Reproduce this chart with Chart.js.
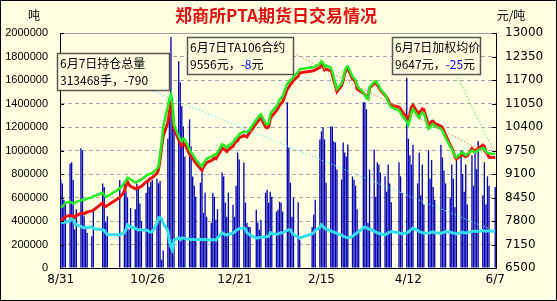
<!DOCTYPE html>
<html><head><meta charset="utf-8">
<script src="https://cdn.jsdelivr.net/npm/chart.js@4/dist/chart.umd.min.js"></script>
<style>html,body{margin:0;padding:0;background:#FFFFE1;}canvas{display:block;}</style>
</head><body>
<canvas id="c" width="557" height="301"></canvas>
<script>
// ---- calendar (trading days of ZCE, 2010-08-31 .. 2011-06-07) ----
const startDate = '2010-08-31';
const endDate = '2011-06-07';
const holidays = ['2010-09-22','2010-09-23','2010-09-24','2010-10-01','2010-10-04','2010-10-05','2010-10-06','2010-10-07',
  '2011-01-03','2011-02-02','2011-02-03','2011-02-04','2011-02-07','2011-02-08','2011-04-04','2011-04-05','2011-05-02','2011-06-06'];
const tickDates = ['8/31','10/26','12/21','2/15','4/12','6/7'];

// ---- series (one value per trading day) ----
// 成交量 (吨)
const volume = [
 750000,
 720000,580000,550000, 890000,900000,750000,330000,500000, 1020000,1000000,440000,350000,300000, 270000,500000, 720000,690000,390000,440000,
 750000, 735000,660000,600000,330000,510000, 500000,720000,690000,550000,400000, 640000,735000,690000,735000,750000,
 760000,720000,740000,70000,150000, 1100000,1300000,1966000,1450000,1250000, 1760000,1581000,1376000,1205000,949000, 1265000,1034000,778000,700000,607000, 726000,812000,
 470000,641000,436000, 385000,641000,607000,410000,500000, 812000,778000,555000,436000,641000, 538000,436000,700000,983000,923000, 897000,555000,385000,350000,350000,
 496000,385000,325000,410000, 641000,667000,555000,650000,607000, 479000,496000,564000,555000,480000, 1410000,1026000,726000,436000,598000, 560000,
 240000, 350000,453000,581000, 1094000,1162000,1197000,1094000,726000, 1205000,1205000,1077000,1068000,838000, 752000,
 1068000,983000,949000,1051000, 778000,752000,700000,500000,325000, 1410000,1410000,1350000,385000,838000, 1009000,607000,897000,880000,812000, 780000,650000,880000,720000,
 560000, 900000,780000,640000, 1620000,1100000,960000,880000,1050000, 720000,980000,620000,880000,540000, 1000000,760000,920000,690000,580000,
 1050000,940000,830000,720000, 600000,880000,760000,520000,920000, 1000000,800000,650000,880000,540000, 960000,700000,1000000,840000,1080000, 620000,900000,
 540000,780000,700000, 690000
];
// 持仓总量 (手)
const openInterest = [
 385000,
 390000,388000,392000, 400000,425000,427000,380000,368000, 355000,345000,342000,345000,342000, 350000,335000, 325000,320000,300000,285000,
 282000, 300000,325000,368000,360000,350000, 340000,330000,325000,328000,325000, 322000,320000,310000,305000,308000,
 380000,427000,427000,420000,380000, 320000,230000,180000,154000,240000, 255000,240000,255000,256000,250000, 245000,240000,245000,242000,240000, 245000,240000,
 242000,245000,240000, 238000,242000,240000,238000,256000, 300000,290000,285000,280000,285000, 300000,305000,320000,330000,335000, 342000,330000,300000,290000,280000,
 256000,256000,260000,262000, 265000,268000,270000,300000,295000, 285000,290000,296000,300000,300000, 320000,325000,325000,300000,285000, 262000,
 256000, 290000,300000,320000, 345000,368000,355000,340000,330000, 318000,310000,305000,300000,295000, 280000,
 270000,265000,260000,256000, 268000,282000,290000,300000,310000, 340000,350000,345000,335000,330000, 315000,305000,300000,295000,292000, 282000,290000,300000,305000,
 310000, 300000,295000,290000, 300000,305000,320000,330000,340000, 320000,310000,305000,300000,298000, 295000,300000,305000,310000,300000,
 295000,300000,305000,310000, 305000,300000,298000,295000,290000, 300000,305000,300000,298000,302000, 310000,312000,315000,313000,310000, 318000,315000,
 312000,314000,314258, 313468
];
// TA106合约 (元/吨)
const ta106Price = [
 7800,
 7830,7880,7920, 7960,7950,7920,7900,7950, 8010,8030,8000,8020,8050, 8080,8100, 8300,8220,8200,8230,
 8450, 8620,8780,8890,8800,8760, 8690,8720,8700,8740,8760, 8880,8900,8950,8980,9000,
 9120,9220,9500,9850,10150, 10520,10800,11050,10850,10350, 10050,9950,9880,9950,9920, 9650,9580,9540,9470,9400, 9250,9200,
 9300,9350,9420, 9470,9500,9540,9520,9600, 9820,9790,9760,9720,9780, 9870,9950,10000,10020,10100, 10170,10150,10130,10200,10250,
 10500,10550,10620,10650, 10400,10380,10400,10620,10700, 10850,10920,11000,11050,11100, 11450,11500,11580,11620,11700, 11800,
 11900, 11950,11960,11980, 12050,12120,12080,11980,12000, 11950,11850,11680,11550,11380, 11550,
 11680,11880,11980,12020, 11740,11700,11650,11450,11420, 11330,11300,11230,11200,11480, 11600,11620,11560,11500,11420, 11280,11220,11150,11050,
 11000, 10950,10900,10820, 10680,10600,10750,10950,11000, 10800,10750,10850,10900,10880, 10450,10480,10550,10560,10500,
 10420,10380,10280,10180, 9900,9820,9720,9580,9520, 9620,9650,9600,9580,9600, 9800,9760,9740,9780,9800, 9900,9870,
 9700,9650,9564, 9556
];
// 加权均价 (元/吨)
const weightedPrice = [
 8180,
 8200,8250,8300, 8330,8310,8280,8300,8330, 8370,8390,8380,8400,8420, 8450,8480, 8580,8520,8470,8480,
 8700, 8850,8920,9000,8980,8950, 8860,8880,8900,8930,8950, 9050,9080,9100,9110,9130,
 9250,9320,9650,9950,10400, 10970,11200,11300,11000,10450, 10150,10060,10000,10080,10050, 9780,9700,9650,9580,9500, 9350,9310,
 9400,9450,9520, 9580,9600,9640,9630,9700, 9920,9900,9860,9830,9880, 9970,10050,10100,10120,10200, 10280,10260,10250,10300,10350,
 10600,10650,10720,10750, 10500,10470,10500,10750,10830, 10970,11050,11150,11200,11250, 11600,11640,11700,11720,11800, 11920,
 12000, 12050,12060,12070, 12150,12220,12180,12060,12100, 12050,11920,11750,11600,11450, 11600,
 11750,11950,12050,12080, 11800,11750,11700,11550,11480, 11360,11280,11200,11170,11500, 11650,11670,11600,11550,11450, 11300,11200,11100,11000,
 10950, 10850,10800,10700, 10550,10450,10600,10800,10900, 10700,10650,10750,10800,10780, 10350,10380,10450,10480,10420,
 10350,10300,10200,10100, 9850,9780,9700,9600,9560, 9680,9700,9650,9620,9650, 9750,9720,9700,9730,9760, 9820,9800,
 9720,9690,9672, 9647
];

// ---- build calendar axis ----
const DAY = 86400000;
function parseD(s){const p=s.split('-').map(Number);return Date.UTC(p[0],p[1]-1,p[2]);}
const calLabels = [], tradeIdx = [];
for (let t = parseD(startDate), i = 0; t <= parseD(endDate); t += DAY, i++) {
  const dt = new Date(t);
  calLabels.push((dt.getUTCMonth()+1) + '/' + dt.getUTCDate());
  const wd = dt.getUTCDay();
  if (wd !== 0 && wd !== 6 && !holidays.includes(dt.toISOString().slice(0,10))) tradeIdx.push(i);
}
function place(arr){
  const out = new Array(calLabels.length).fill(null);
  tradeIdx.forEach((ci,k)=>{ if (k < arr.length) out[ci] = arr[k]; });
  return out;
}
const lastK = Math.min(tradeIdx.length, volume.length) - 1;
const lastCal = tradeIdx[lastK];

const BG = '#FFFFE1';
const CJK = '"Noto Sans CJK SC", sans-serif';

const decor = {
  id: 'decor',
  beforeDraw(chart){
    const c = chart.ctx; c.save(); c.fillStyle = BG; c.fillRect(0,0,chart.width,chart.height); c.restore();
  },
  afterDatasetsDraw(chart){
    const c = chart.ctx, sx = chart.scales.x, yl = chart.scales.yL, yr = chart.scales.yR;
    const lx = sx.getPixelForValue(lastCal);
    c.save();
    c.setLineDash([1.5,2]); c.lineWidth = 1;
    c.strokeStyle = '#70E8E8';
    c.beginPath(); c.moveTo(150, 90); c.lineTo(lx, yl.getPixelForValue(openInterest[lastK])); c.stroke();
    c.strokeStyle = '#E08060';
    c.beginPath(); c.moveTo(293, 53); c.lineTo(lx, yr.getPixelForValue(ta106Price[lastK])); c.stroke();
    c.strokeStyle = '#60E060';
    c.beginPath(); c.moveTo(456, 74); c.lineTo(lx, yr.getPixelForValue(weightedPrice[lastK])); c.stroke();
    c.restore();
  },
  afterDraw(chart){
    const c = chart.ctx, a = chart.chartArea, yl = chart.scales.yL, yr = chart.scales.yR;
    c.save();
    c.strokeStyle = '#A0A0A0'; c.lineWidth = 1;
    c.beginPath(); c.moveTo(a.left, Math.round(a.top)+0.5); c.lineTo(a.right, Math.round(a.top)+0.5); c.stroke();
    c.strokeStyle = '#000';
    yl.ticks.forEach(t=>{ const y = Math.round(yl.getPixelForValue(t.value))+0.5; c.beginPath(); c.moveTo(a.left, y); c.lineTo(a.left+4, y); c.stroke(); });
    yr.ticks.forEach(t=>{ const y = Math.round(yr.getPixelForValue(t.value))+0.5; c.beginPath(); c.moveTo(a.right-4, y); c.lineTo(a.right, y); c.stroke(); });
    c.fillStyle = '#E01010'; c.font = 'bold 17px ' + CJK; c.textAlign = 'center'; c.textBaseline = 'middle';
    c.fillText('郑商所PTA期货日交易情况', 276, 16);
    c.fillStyle = '#000'; c.font = '12px ' + CJK;
    c.fillText('吨', 34, 15);
    c.fillText('元/吨', 511, 15);
    function box(x, y, w, h, lines){
      c.fillStyle = BG; c.fillRect(x, y, w, h);
      c.strokeStyle = '#555'; c.lineWidth = 1.5; c.strokeRect(x+0.5, y+0.5, w, h);
      c.font = '12px ' + CJK; c.textAlign = 'left'; c.textBaseline = 'middle';
      lines.forEach((parts, i)=>{
        let cx = x + 3; const cy = y + 10 + i*17;
        parts.forEach(p=>{ c.fillStyle = p[1] || '#000'; c.fillText(p[0], cx, cy); cx += c.measureText(p[0]).width; });
      });
    }
    box(57, 53, 112, 37, [[['6月7日持仓总量']], [['313468手，-790']]]);
    box(187, 37, 106, 37, [[['6月7日TA106合约']], [['9556元，'], ['-8', '#0000E0'], ['元']]]);
    box(392, 37, 88, 37, [[['6月7日加权均价']], [['9647元，'], ['-25', '#0000E0'], ['元']]]);
    c.strokeStyle = '#000'; c.lineWidth = 1; c.setLineDash([]);
    c.strokeRect(0.5, 0.5, chart.width-1, chart.height-1);
    c.restore();
  }
};

new Chart(document.getElementById('c').getContext('2d'), {
  type: 'bar',
  data: {
    labels: calLabels,
    datasets: [
      { type:'line', label:'加权均价', data: place(weightedPrice), yAxisID:'yR', borderColor:'#22EE22', borderWidth:2.5, pointRadius:0, spanGaps:true, tension:0, order:1 },
      { type:'line', label:'TA106合约', data: place(ta106Price), yAxisID:'yR', borderColor:'#EE1010', borderWidth:3, pointRadius:0, spanGaps:true, tension:0, order:2 },
      { type:'line', label:'持仓总量', data: place(openInterest), yAxisID:'yL', borderColor:'#33DDF2', borderWidth:3, pointRadius:0, spanGaps:true, tension:0, order:3 },
      { type:'bar', label:'成交量', data: place(volume), yAxisID:'yL', backgroundColor:'#0000B4', barPercentage:0.85, categoryPercentage:1, order:4 }
    ]
  },
  options: {
    responsive:false, animation:false, events:[],
    layout:{ padding:{ top:33, left:0, right:0, bottom:0 } },
    plugins:{ legend:{display:false}, tooltip:{enabled:false} },
    scales:{
      x:{
        offset:true,
        grid:{display:false, drawTicks:false},
        border:{color:'#000', width:1},
        ticks:{ autoSkip:false, maxRotation:0, minRotation:0, color:'#000', padding:5,
          font:{size:12, family:'"DejaVu Sans", sans-serif'},
          callback(v){ const l = this.getLabelForValue(v); return tickDates.includes(l) ? l : null; } },
        afterFit(s){ s.height = 33; }
      },
      yL:{
        position:'left', min:0, max:2000000,
        ticks:{ stepSize:200000, color:'#000', padding:12, font:{size:11, family:'"Liberation Sans", Arial, sans-serif'},
          callback(v){ return String(v); } },
        grid:{ color:'#A8A8A8', drawTicks:false, lineWidth:1 },
        border:{ color:'#000', width:1, dash:[4,3] },
        afterFit(s){ s.width = 60; }
      },
      yR:{
        position:'right', min:6500, max:13000,
        ticks:{ stepSize:650, color:'#000', padding:9, font:{size:12, family:'"DejaVu Sans", sans-serif'},
          callback(v){ return String(v); } },
        grid:{ display:false, drawTicks:false },
        border:{ color:'#000', width:1 },
        afterFit(s){ s.width = 61; }
      }
    }
  },
  plugins:[decor]
});
</script>
</body></html>
